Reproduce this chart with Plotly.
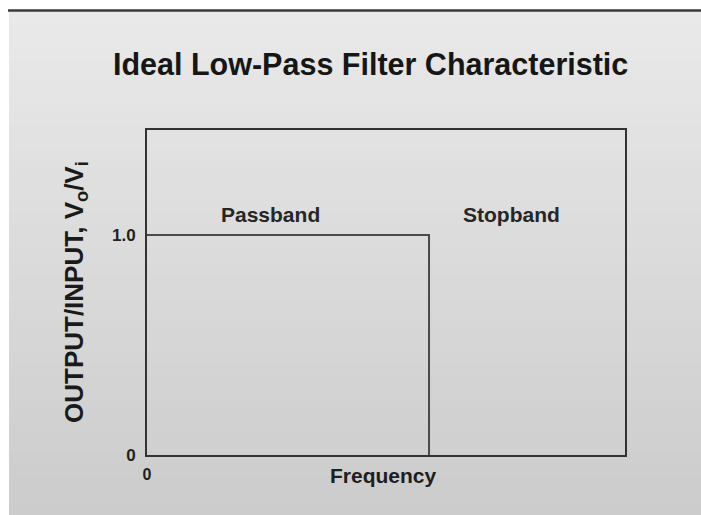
import plotly.graph_objects as go

# ---- data ----
band_x = [0.0, 0.59, 0.59]          # normalized frequency: passband edge at cutoff
band_y = [1.0, 1.0, 0.0]            # output/input ratio
y_tick_vals = [0.0, 1.0]
y_tick_text = ["0", "1.0"]
x_tick_vals = [0.0]
x_tick_text = ["0"]
region_labels = ["Passband", "Stopband"]
region_x = [0.258, 0.762]
region_y = [1.095, 1.095]

W, H = 701, 515
L, R, T, B = 147, 625, 130, 455
FONT = "Liberation Sans, Arial, Helvetica, sans-serif"

def px(xp):
    return (xp - L) / (R - L)

def py(yp):
    return (B - yp) / (B - T)

fig = go.Figure()
fig.add_trace(go.Scatter(x=band_x, y=band_y, mode="lines",
                         line=dict(color="#4a4a4a", width=2), hoverinfo="skip",
                         showlegend=False))

shapes = []
# background gradient
n = 40
top_c, bot_c = 233, 204
for i in range(n):
    y0 = 10 + (H - 10) * i / n
    y1 = 10 + (H - 10) * (i + 1) / n + 1
    c = int(round(top_c + (bot_c - top_c) * i / (n - 1)))
    shapes.append(dict(type="rect", xref="paper", yref="paper", layer="below",
                       x0=px(9), x1=px(W), y0=py(y1), y1=py(y0),
                       fillcolor=f"rgb({c},{c},{c})", line=dict(width=0)))
# top border line
shapes.append(dict(type="line", xref="paper", yref="paper", layer="below",
                   x0=px(8), x1=px(W), y0=py(10.5), y1=py(10.5),
                   line=dict(color="#3a3a3a", width=2.5)))

annotations = [
    dict(text="<b>Ideal Low-Pass Filter Characteristic</b>", xref="paper", yref="paper",
         x=px(370), y=py(64), showarrow=False, xanchor="center", yanchor="middle",
         font=dict(family=FONT, size=30.5, color="#161616")),
    dict(text="<b>OUTPUT/INPUT, V<sub>o</sub>/V<sub>i</sub></b>", xref="paper", yref="paper",
         x=px(75), y=py(292), showarrow=False, textangle=-90,
         xanchor="center", yanchor="middle",
         font=dict(family=FONT, size=26, color="#1a1a1a")),
    dict(text="<b>Frequency</b>", xref="paper", yref="paper",
         x=px(383), y=py(475), showarrow=False, xanchor="center", yanchor="middle",
         font=dict(family=FONT, size=21, color="#1e1e1e")),
]
for lab, xv, yv in zip(region_labels, region_x, region_y):
    annotations.append(dict(text=f"<b>{lab}</b>", x=xv, y=yv, xref="x", yref="y",
                            showarrow=False, xanchor="center", yanchor="middle",
                            font=dict(family=FONT, size=21, color="#262626")))

fig.update_layout(
    width=W, height=H,
    margin=dict(l=L, r=W - R, t=T, b=H - B, pad=0),
    paper_bgcolor="white",
    plot_bgcolor="rgba(0,0,0,0)",
    shapes=shapes,
    annotations=annotations,
    showlegend=False,
    xaxis=dict(range=[0, 1], showgrid=False, zeroline=False, showline=True,
               mirror=True, linecolor="#333333", linewidth=2,
               tickvals=x_tick_vals, ticktext=[f"<b>{t}</b>" for t in x_tick_text],
               ticks="", ticklabelstandoff=4,
               tickfont=dict(family=FONT, size=16, color="#222")),
    yaxis=dict(range=[0, 1.477], showgrid=False, zeroline=False, showline=True,
               mirror=True, linecolor="#333333", linewidth=2,
               tickvals=y_tick_vals, ticktext=[f"<b>{t}</b>" for t in y_tick_text],
               ticks="", ticklabelstandoff=6,
               tickfont=dict(family=FONT, size=17, color="#222")),
)

fig.write_html("out.html", config={"displayModeBar": False},
               post_script="document.body.style.margin='0';")
